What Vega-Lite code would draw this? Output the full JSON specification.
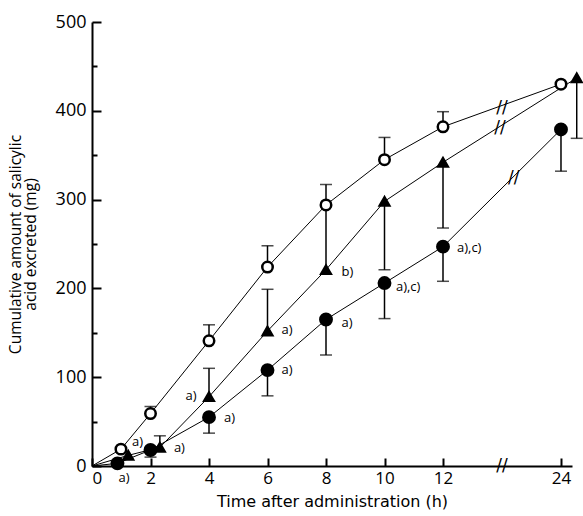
{
  "$schema": "https://vega.github.io/schema/vega-lite/v6.json",
  "autosize": {"type": "none"},
  "padding": {"left": 92, "top": 22, "right": 11, "bottom": 50},
  "width": 480,
  "height": 444,
  "config": {
    "view": {"stroke": null},
    "font": "Open Sans",
    "axis": {
      "domainColor": "black", "domainWidth": 2, "tickColor": "black", "tickWidth": 2,
      "labelColor": "black", "titleColor": "black", "grid": false,
      "labelFont": "Open Sans", "titleFont": "Open Sans", "labelFontWeight": "normal", "titleFontWeight": "normal"
    }
  },
  "datasets": {
    "main": [
      {"group": "open", "time": 0, "value": 0, "err": null},
      {"group": "open", "time": 0.99, "value": 19, "err": null},
      {"group": "open", "time": 2, "value": 59, "err": 67},
      {"group": "open", "time": 4, "value": 141, "err": 159},
      {"group": "open", "time": 6, "value": 224, "err": 248},
      {"group": "open", "time": 8, "value": 294, "err": 317},
      {"group": "open", "time": 10, "value": 345, "err": 370},
      {"group": "open", "time": 12, "value": 382, "err": 399},
      {"group": "open", "time": 24, "value": 430, "err": null},
      {"group": "tri", "time": 0, "value": 0, "err": null},
      {"group": "tri", "time": 1.24, "value": 12, "err": null},
      {"group": "tri", "time": 2.32, "value": 21, "err": 34},
      {"group": "tri", "time": 4, "value": 78, "err": 110},
      {"group": "tri", "time": 6, "value": 152, "err": 199},
      {"group": "tri", "time": 8, "value": 221, "err": 292},
      {"group": "tri", "time": 10, "value": 298, "err": 221},
      {"group": "tri", "time": 12, "value": 342, "err": 268},
      {"group": "tri", "time": 25.6, "value": 437, "err": 369},
      {"group": "filled", "time": 0, "value": 0, "err": null},
      {"group": "filled", "time": 0.87, "value": 3, "err": null},
      {"group": "filled", "time": 2, "value": 18, "err": 10},
      {"group": "filled", "time": 4, "value": 55, "err": 37},
      {"group": "filled", "time": 6, "value": 108, "err": 79},
      {"group": "filled", "time": 8, "value": 165, "err": 125},
      {"group": "filled", "time": 10, "value": 206, "err": 166},
      {"group": "filled", "time": 12, "value": 247, "err": 208},
      {"group": "filled", "time": 24, "value": 379, "err": 332}
    ],
    "breaks": [
      {"time": 18, "value": 0},
      {"time": 18, "value": 403},
      {"time": 17.8, "value": 381},
      {"time": 19.2, "value": 324}
    ],
    "notes": [
      {"text": "a)", "time": 1.37, "value": 27},
      {"text": "a)", "time": 2.8, "value": 20},
      {"text": "a)", "time": 3.2, "value": 79},
      {"text": "a)", "time": 4.51, "value": 54},
      {"text": "a)", "time": 6.48, "value": 153},
      {"text": "a)", "time": 6.48, "value": 108},
      {"text": "b)", "time": 8.53, "value": 219},
      {"text": "a)", "time": 8.53, "value": 161},
      {"text": "a),c)", "time": 10.39, "value": 202},
      {"text": "a),c)", "time": 13.42, "value": 245},
      {"text": "a)", "time": 0.91, "value": -14}
    ]
  },
  "encoding": {
    "x": {
      "field": "time", "type": "quantitative",
      "scale": {"domain": [0, 12, 25.12], "range": [0, 351, 480], "nice": false, "zero": false},
      "axis": {
        "values": [0, 2, 4, 6, 8, 10, 12, 24],
        "tickSize": -8, "labelPadding": 12, "labelFontSize": 17,
        "title": "Time after administration  (h)", "titleFont": "DejaVu Sans", "titleFontSize": 16, "titlePadding": 7
      }
    },
    "y": {
      "field": "value", "type": "quantitative",
      "scale": {"domain": [0, 500], "nice": false, "zero": false},
      "axis": {
        "values": [0, 50, 100, 150, 200, 250, 300, 350, 400, 450, 500],
        "labelExpr": "datum.value % 100 == 0 ? datum.label : ''",
        "tickSize": {"condition": {"test": "datum.value % 100 != 0", "value": -5}, "value": -9},
        "labelPadding": 15, "labelFontSize": 18,
        "title": ["Cumulative amount of salicylic", "acid excreted  (mg)"],
        "titleFontSize": 15.5, "titleLineHeight": 15, "titlePadding": 17
      }
    }
  },
  "layer": [
    {
      "data": {"name": "main"},
      "mark": {"type": "line", "color": "black", "strokeWidth": 1},
      "encoding": {"detail": {"field": "group"}}
    },
    {
      "data": {"name": "main"},
      "transform": [{"filter": "isValid(datum.err)"}],
      "mark": {"type": "rule", "color": "black", "strokeWidth": 1.5},
      "encoding": {"y2": {"field": "err"}}
    },
    {
      "data": {"name": "main"},
      "transform": [{"filter": "isValid(datum.err)"}],
      "mark": {"type": "tick", "orient": "horizontal", "color": "black", "size": 12, "thickness": 1.5},
      "encoding": {"y": {"field": "err", "type": "quantitative", "title": ["Cumulative amount of salicylic", "acid excreted  (mg)"]}}
    },
    {
      "data": {"name": "main"},
      "transform": [{"filter": "datum.time > 0"}],
      "mark": {"type": "point", "filled": false, "stroke": "black", "strokeWidth": 2.5, "opacity": 1},
      "encoding": {
        "shape": {"field": "group", "type": "nominal", "scale": {"domain": ["filled", "open", "tri"], "range": ["circle", "circle", "triangle-up"]}, "legend": null},
        "fill": {"field": "group", "type": "nominal", "scale": {"domain": ["filled", "open", "tri"], "range": ["black", "white", "black"]}, "legend": null},
        "size": {"field": "group", "type": "nominal", "scale": {"domain": ["filled", "open", "tri"], "range": [130, 90, 120]}, "legend": null}
      }
    },
    {
      "data": {"name": "breaks"},
      "mark": {"type": "text", "text": "//", "fontSize": 17, "color": "black", "font": "DejaVu Sans"}
    },
    {
      "data": {"name": "notes"},
      "mark": {"type": "text", "align": "left", "baseline": "middle", "fontSize": 13, "color": "black", "clip": false},
      "encoding": {"text": {"field": "text"}}
    }
  ]
}
